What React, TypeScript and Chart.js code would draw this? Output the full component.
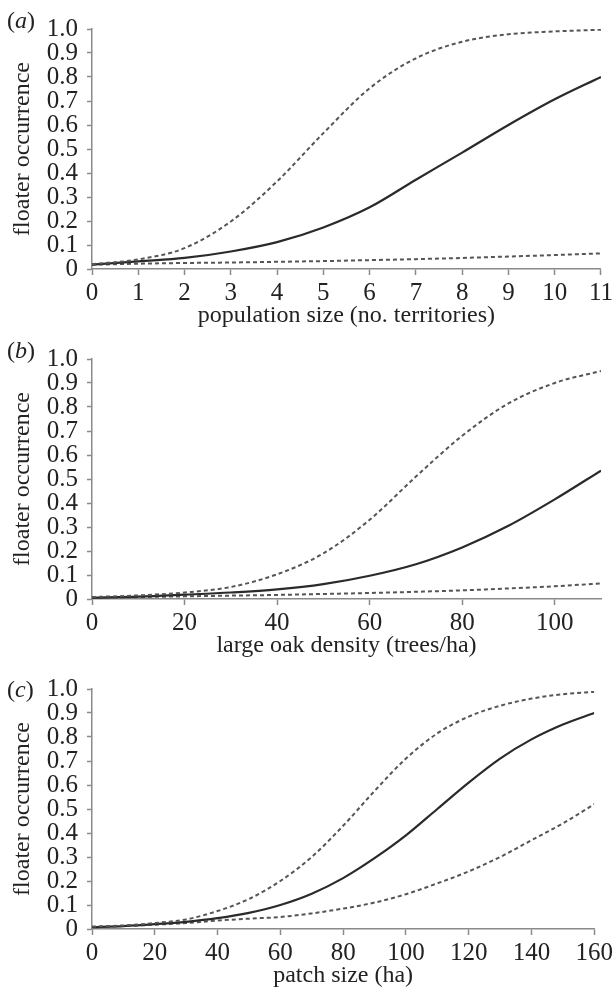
import React, { useEffect, useRef } from "react";
import { Chart, registerables } from "chart.js";

Chart.register(...registerables);

// Panel (a): population size (no. territories)
const xA = [0, 1, 2, 3, 4, 5, 6, 7, 8, 9, 10, 11];
const upperA = [0.02, 0.04, 0.087, 0.198, 0.365, 0.566, 0.753, 0.878, 0.947, 0.978, 0.99, 0.997];
const meanA = [0.018, 0.032, 0.046, 0.073, 0.112, 0.173, 0.257, 0.372, 0.485, 0.6, 0.707, 0.8];
const lowerA = [0.018, 0.022, 0.025, 0.027, 0.03, 0.033, 0.037, 0.041, 0.046, 0.052, 0.058, 0.065];

// Panel (b): large oak density (trees/ha)
const xB = [0, 10, 20, 30, 40, 50, 60, 70, 80, 90, 100, 110];
const upperB = [0.008, 0.015, 0.027, 0.05, 0.103, 0.19, 0.33, 0.51, 0.68, 0.815, 0.9, 0.95];
const meanB = [0.006, 0.01, 0.018, 0.027, 0.04, 0.062, 0.097, 0.145, 0.215, 0.305, 0.415, 0.535];
const lowerB = [0.005, 0.008, 0.011, 0.014, 0.017, 0.021, 0.025, 0.03, 0.036, 0.044, 0.053, 0.065];

// Panel (c): patch size (ha)
const xC = [0, 10, 20, 30, 40, 50, 60, 70, 80, 90, 100, 110, 120, 130, 140, 150, 160];
const upperC = [0.01, 0.015, 0.025, 0.04, 0.075, 0.125, 0.2, 0.3, 0.43, 0.575, 0.71, 0.815, 0.885, 0.93, 0.96, 0.978, 0.988];
const meanC = [0.008, 0.012, 0.02, 0.03, 0.045, 0.067, 0.1, 0.147, 0.212, 0.295, 0.39, 0.5, 0.61, 0.71, 0.79, 0.852, 0.9];
const lowerC = [0.008, 0.012, 0.018, 0.025, 0.035, 0.043, 0.05, 0.065, 0.085, 0.11, 0.145, 0.19, 0.24, 0.3, 0.37, 0.44, 0.52];

const panelLabels = ["a", "b", "c"];
const xTitles = ["population size (no. territories)", "large oak density (trees/ha)", "patch size (ha)"];
const yTitle = "floater occurrence";
const xMax = [11, 110, 160];
const xStep = [1, 20, 20];

const FONT = "'Liberation Serif', 'Times New Roman', serif";
const AXIS = "#8a8a8a";
const TEXT = "#222";
const TICK_SIZE = 25;
const TITLE_SIZE = 24;

type PanelProps = { idx: number; xs: number[]; upper: number[]; mean: number[]; lower: number[] };

function Panel({ idx, xs, upper, mean, lower }: PanelProps) {
  const ref = useRef<HTMLCanvasElement | null>(null);
  useEffect(() => {
    if (!ref.current) return;
    const toPts = (ys: number[]) => xs.map((x, i) => ({ x, y: ys[i] }));
    const dashed = {
      borderColor: "#555",
      borderWidth: 2,
      borderDash: [4, 3],
      pointRadius: 0,
      cubicInterpolationMode: "monotone" as const,
      fill: false,
    };
    const chart = new Chart(ref.current, {
      type: "line",
      data: {
        datasets: [
          { ...dashed, data: toPts(upper) },
          {
            data: toPts(mean),
            borderColor: "#2a2a2a",
            borderWidth: 2.2,
            pointRadius: 0,
            cubicInterpolationMode: "monotone",
            fill: false,
          },
          { ...dashed, data: toPts(lower) },
        ],
      },
      options: {
        animation: false,
        responsive: false,
        maintainAspectRatio: false,
        layout: { padding: { top: 29, right: 15, bottom: 0, left: 0 } },
        plugins: { legend: { display: false }, tooltip: { enabled: false }, title: { display: false } },
        scales: {
          x: {
            type: "linear",
            min: 0,
            max: xMax[idx],
            afterBuildTicks: (s: any) => {
              const step = xStep[idx];
              const t: any[] = [];
              for (let v = 0; v <= xMax[idx] + 1e-9; v += step) t.push({ value: v });
              s.ticks = t;
            },
            afterFit: (s: any) => {
              s.height = 61;
            },
            ticks: {
              font: { family: FONT, size: TICK_SIZE },
              color: TEXT,
              padding: 3,
              maxRotation: 0,
              autoSkip: false,
            },
            grid: { drawOnChartArea: false, drawTicks: true, tickLength: 6, color: AXIS, tickColor: AXIS, tickWidth: 1.5 },
            border: { color: AXIS, width: 1.5 },
            title: {
              display: true,
              text: xTitles[idx],
              font: { family: FONT, size: TITLE_SIZE },
              color: TEXT,
              padding: { top: 0, bottom: 0 },
            },
          },
          y: {
            type: "linear",
            min: 0,
            max: 1,
            afterFit: (s: any) => {
              s.width = 92;
            },
            ticks: {
              stepSize: 0.1,
              autoSkip: false,
              font: { family: FONT, size: TICK_SIZE },
              color: TEXT,
              padding: 9,
              callback: (v: any) => (Math.abs(v) < 1e-9 ? "0" : Number(v).toFixed(1)),
            },
            grid: { drawOnChartArea: false, drawTicks: true, tickLength: 5, color: AXIS, tickColor: AXIS, tickWidth: 1.5 },
            border: { color: AXIS, width: 1.5 },
            title: {
              display: true,
              text: yTitle,
              font: { family: FONT, size: TITLE_SIZE },
              color: TEXT,
              padding: { top: 8, bottom: 0 },
            },
          },
        },
      },
    });
    return () => chart.destroy();
  }, [idx, xs, upper, mean, lower]);

  return (
    <div style={{ position: "absolute", left: 0, top: [0, 330, 660][idx], width: 616, height: 330 }}>
      <canvas ref={ref} width={616} height={330} style={{ width: 616, height: 330, display: "block" }} />
      <div
        style={{
          position: "absolute",
          left: 7,
          top: [6, 6, 15][idx],
          fontFamily: FONT,
          fontSize: TITLE_SIZE,
          lineHeight: "28px",
          color: TEXT,
        }}
      >
        (<i>{panelLabels[idx]}</i>)
      </div>
    </div>
  );
}

export default function App() {
  return (
    <div style={{ position: "absolute", left: 0, top: 0, width: 616, height: 991, background: "#fff" }}>
      <Panel idx={0} xs={xA} upper={upperA} mean={meanA} lower={lowerA} />
      <Panel idx={1} xs={xB} upper={upperB} mean={meanB} lower={lowerB} />
      <Panel idx={2} xs={xC} upper={upperC} mean={meanC} lower={lowerC} />
    </div>
  );
}
